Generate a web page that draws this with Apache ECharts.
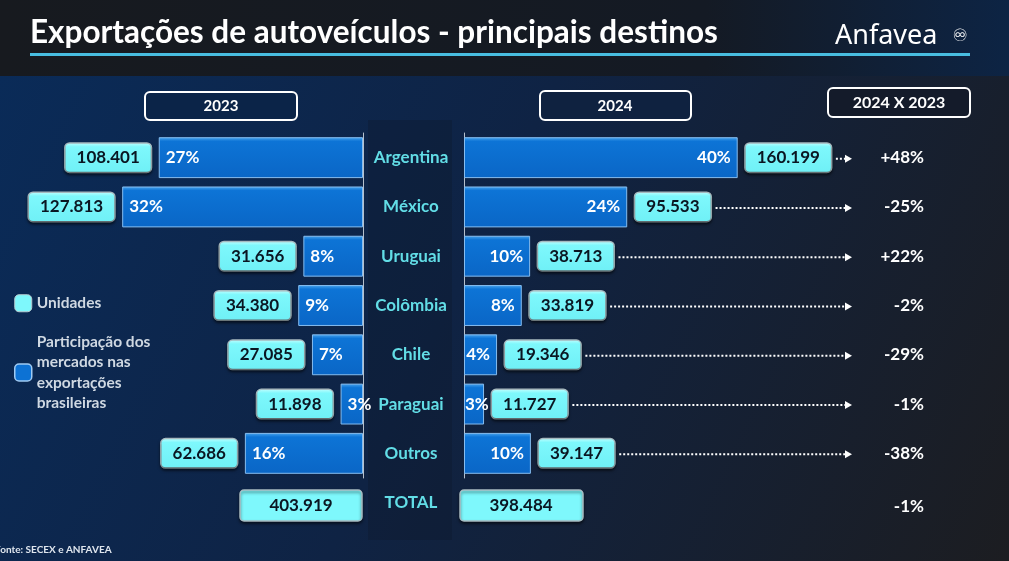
<!DOCTYPE html>
<html>
<head>
<meta charset="utf-8">
<script src="https://cdn.jsdelivr.net/npm/echarts@6/dist/echarts.min.js"></script>
<style>
html,body{margin:0;padding:0;background:#0f2242;}
#c{width:1009px;height:561px;}
</style>
</head>
<body>
<div id="c"></div>
<script>
// ---- data ----
const categories = ['Argentina', 'México', 'Uruguai', 'Colômbia', 'Chile', 'Paraguai', 'Outros'];
const units2023 = [108401, 127813, 31656, 34380, 27085, 11898, 62686];
const units2024 = [160199, 95533, 38713, 33819, 19346, 11727, 39147];
const share2023 = [27, 32, 8, 9, 7, 3, 16];
const share2024 = [40, 24, 10, 8, 4, 3, 10];
const change = ['+48%', '-25%', '+22%', '-2%', '-29%', '-1%', '-38%'];
const total2023 = 403919;
const total2024 = 398484;
const totalChange = '-1%';
const yearLabels = ['2023', '2024', '2024 X 2023'];

const FONT = 'Lato, "Noto Sans", sans-serif';
const fmt = v => v.toLocaleString('de-DE');
const nameUnits = 'Unidades';
const nameShare = 'Participação dos mercados nas exportações brasileiras';

const cv = document.createElement('canvas').getContext('2d');
cv.font = 'bold 17px Lato';
const textW = s => cv.measureText(s).width;

const chart = echarts.init(document.getElementById('c'), null, {renderer: 'canvas'});

const barStyle = {
  color: new echarts.graphic.LinearGradient(0, 0, 0, 1, [
    {offset: 0, color: '#4aa6ee'},
    {offset: 0.1, color: '#0d74d6'},
    {offset: 1, color: '#0a66c6'}
  ]),
  borderColor: '#86bdf0',
  borderWidth: 1
};
const boxLabel = {
  show: true,
  color: '#0a1622',
  fontFamily: FONT,
  fontWeight: 'bold',
  fontSize: 17,
  backgroundColor: new echarts.graphic.LinearGradient(0, 0, 0, 1, [
    {offset: 0, color: '#c8ffff'},
    {offset: 0.15, color: '#7ef8fc'},
    {offset: 1, color: '#6ff0f6'}
  ]),
  borderColor: '#a9bcc2',
  borderWidth: 1.5,
  borderRadius: 4,
  padding: [6, 11, 5, 11],
  shadowColor: 'rgba(0,0,0,0.5)',
  shadowBlur: 3,
  shadowOffsetY: 2,
  distance: 8
};
const pctLabel = {
  show: true,
  color: '#ffffff',
  fontFamily: FONT,
  fontWeight: 'bold',
  fontSize: 17,
  distance: 7
};

const option = {
  backgroundColor: 'transparent',
  animation: false,
  graphic: [
    {type: 'rect', z: -10, shape: {x: 0, y: 76, width: 1009, height: 485},
      style: {fill: new echarts.graphic.LinearGradient(0, 0, 1, 1, [
        {offset: 0, color: '#0a2b58'},
        {offset: 0.45, color: '#0f2344'},
        {offset: 1, color: '#1c1d21'}
      ])}},
    {type: 'rect', z: -10, shape: {x: 0, y: 0, width: 1009, height: 76},
      style: {fill: new echarts.graphic.LinearGradient(0, 0, 1, 0, [
        {offset: 0, color: '#171a1f'},
        {offset: 0.7, color: '#141a24'},
        {offset: 1, color: '#0d2444'}
      ])}},
    {type: 'rect', z: -9, shape: {x: 368, y: 120, width: 84, height: 420},
      style: {fill: 'rgba(14,22,40,0.3)'}},
    {type: 'text', x: 30, y: 33, style: {text: 'Exportações de autoveículos - principais destinos',
      fill: '#ffffff', font: 'bold 31.5px ' + FONT, verticalAlign: 'middle'}},
    {type: 'rect', shape: {x: 30, y: 53, width: 940, height: 3}, style: {fill: '#48bde0'}},
    {type: 'text', x: 835, y: 36, style: {text: 'Anfavea', fill: '#ffffff',
      font: '27px "Noto Sans", sans-serif', verticalAlign: 'middle'}},
    {type: 'text', x: 960, y: 37, style: {text: '♾', fill: '#ffffff', font: '17px "DejaVu Sans"', align: 'center', verticalAlign: 'middle'}},
    // year header boxes
    {type: 'rect', shape: {x: 145, y: 92, width: 152, height: 28, r: 5},
      style: {fill: '#0b2448', stroke: '#ffffff', lineWidth: 2}},
    {type: 'text', x: 221, y: 106, style: {text: yearLabels[0], fill: '#fff', font: 'bold 15px ' + FONT, align: 'center', verticalAlign: 'middle'}},
    {type: 'rect', shape: {x: 540, y: 91, width: 151, height: 29, r: 5},
      style: {fill: '#0f2240', stroke: '#ffffff', lineWidth: 2}},
    {type: 'text', x: 615, y: 106, style: {text: yearLabels[1], fill: '#fff', font: 'bold 15px ' + FONT, align: 'center', verticalAlign: 'middle'}},
    {type: 'rect', shape: {x: 828, y: 88, width: 142, height: 29, r: 5},
      style: {fill: '#141b2a', stroke: '#ffffff', lineWidth: 2}},
    {type: 'text', x: 899, y: 103, style: {text: yearLabels[2], fill: '#fff', font: 'bold 16px ' + FONT, align: 'center', verticalAlign: 'middle'}},
    // total row
    {type: 'rect', shape: {x: 240, y: 490, width: 122, height: 31, r: 4},
      style: {fill: '#7ef8fc', stroke: '#a9bcc2', lineWidth: 1.5, shadowColor: 'rgba(0,0,0,0.5)', shadowBlur: 3, shadowOffsetY: 2}},
    {type: 'text', x: 301, y: 506, style: {text: fmt(total2023), fill: '#0a1622', font: 'bold 17px ' + FONT, align: 'center', verticalAlign: 'middle'}},
    {type: 'text', x: 411, y: 503, style: {text: 'TOTAL', fill: '#62dde6', font: 'bold 17px ' + FONT, align: 'center', verticalAlign: 'middle'}},
    {type: 'rect', shape: {x: 460, y: 490, width: 123, height: 31, r: 4},
      style: {fill: '#7ef8fc', stroke: '#a9bcc2', lineWidth: 1.5, shadowColor: 'rgba(0,0,0,0.5)', shadowBlur: 3, shadowOffsetY: 2}},
    {type: 'text', x: 521, y: 506, style: {text: fmt(total2024), fill: '#0a1622', font: 'bold 17px ' + FONT, align: 'center', verticalAlign: 'middle'}},
    {type: 'text', x: 924, y: 507, style: {text: totalChange, fill: '#ffffff', font: 'bold 17px ' + FONT, align: 'right', verticalAlign: 'middle'}},
    {type: 'text', left: -5, top: 545, style: {text: 'Fonte: SECEX e ANFAVEA', fill: '#dfe6ee', font: 'bold 10px ' + FONT}}
  ],
  legend: {
    orient: 'vertical',
    left: 9,
    top: 288,
    itemWidth: 17,
    itemHeight: 17,
    itemGap: 18,
    icon: 'roundRect',
    selectedMode: false,
    textStyle: {color: '#cfd8e2', fontFamily: FONT, fontWeight: 'bold', fontSize: 15.5, lineHeight: 20.5},
    formatter: n => n === nameShare ? 'Participação dos\nmercados nas\nexportações\nbrasileiras' : n,
    data: [
      {name: nameUnits, itemStyle: {color: '#7ef8fc', borderColor: '#b9cdd2', borderWidth: 1, opacity: 1}},
      {name: nameShare, itemStyle: {color: '#0d72d4', borderColor: '#9fcaf2', borderWidth: 1.5, opacity: 1}}
    ]
  },
  grid: [
    {left: 5, width: 358, top: 133, height: 345},
    {left: 464, width: 504, top: 133, height: 345}
  ],
  xAxis: [
    {gridIndex: 0, type: 'value', inverse: true, min: 0, max: 190000, show: false},
    {gridIndex: 1, type: 'value', min: 0, max: 295000, show: false}
  ],
  yAxis: [
    {gridIndex: 0, type: 'category', data: categories, inverse: true, position: 'right',
      axisLine: {lineStyle: {color: '#b6c0cc', width: 1}},
      axisTick: {length: 5, lineStyle: {color: '#b6c0cc'}},
      axisLabel: {align: 'center', margin: 48, color: '#62dde6', fontFamily: FONT, fontWeight: 'bold', fontSize: 17}},
    {gridIndex: 1, type: 'category', data: categories, inverse: true, position: 'left',
      axisLine: {lineStyle: {color: '#b6c0cc', width: 1}},
      axisTick: {length: 5, lineStyle: {color: '#b6c0cc'}},
      axisLabel: {show: false}},
    {gridIndex: 1, type: 'category', data: change, inverse: true, position: 'right',
      axisLine: {show: false}, axisTick: {show: false},
      axisLabel: {inside: true, margin: 44, color: '#ffffff', fontFamily: FONT, fontWeight: 'bold', fontSize: 17}}
  ],
  series: [
    {name: nameShare, type: 'bar', xAxisIndex: 0, yAxisIndex: 0, data: units2023,
      barCategoryGap: '17%', barGap: '-100%', itemStyle: barStyle,
      label: Object.assign({}, pctLabel, {position: 'insideLeft', formatter: p => share2023[p.dataIndex] + '%'})},
    {name: nameUnits, type: 'bar', xAxisIndex: 0, yAxisIndex: 0, data: units2023,
      barCategoryGap: '17%', barGap: '-100%', itemStyle: {color: 'rgba(0,0,0,0)'}, silent: true,
      label: Object.assign({}, boxLabel, {position: 'left', formatter: p => fmt(p.value)})},
    {name: nameShare, type: 'bar', xAxisIndex: 1, yAxisIndex: 1, data: units2024,
      barCategoryGap: '17%', barGap: '-100%', itemStyle: barStyle,
      label: Object.assign({}, pctLabel, {position: 'insideRight', formatter: p => share2024[p.dataIndex] + '%'}),
      labelLayout: params => {
        if (params.labelRect.x < params.rect.x + 1) {
          return {
            x: params.rect.x + 1,
            y: params.rect.y + params.rect.height / 2,
            align: 'left',
            verticalAlign: 'middle'
          };
        }
        return {};
      }},
    {name: nameUnits, type: 'bar', xAxisIndex: 1, yAxisIndex: 1, data: units2024,
      barCategoryGap: '17%', barGap: '-100%', itemStyle: {color: 'rgba(0,0,0,0)'}, silent: true,
      label: Object.assign({}, boxLabel, {position: 'right', formatter: p => fmt(p.value)})},
    {type: 'custom', xAxisIndex: 1, yAxisIndex: 1, silent: true,
      data: units2024.map((v, i) => [v, i]),
      renderItem: (params, api) => {
        const p = api.coord([api.value(0), api.value(1)]);
        const boxW = textW(fmt(api.value(0))) + 22 + 2;
        const x0 = p[0] + 8 + boxW + 3;
        const x1 = 852;
        const y = p[1] + 1;
        return {type: 'group', children: [
          {type: 'line', shape: {x1: x0, y1: y, x2: x1 - 6, y2: y},
            style: {stroke: '#ffffff', lineWidth: 2, lineDash: [2, 2]}},
          {type: 'polygon', shape: {points: [[x1 - 7, y - 4], [x1, y], [x1 - 7, y + 4]]},
            style: {fill: '#ffffff'}}
        ]};
      }}
  ]
};
chart.setOption(option);
</script>
</body>
</html>
